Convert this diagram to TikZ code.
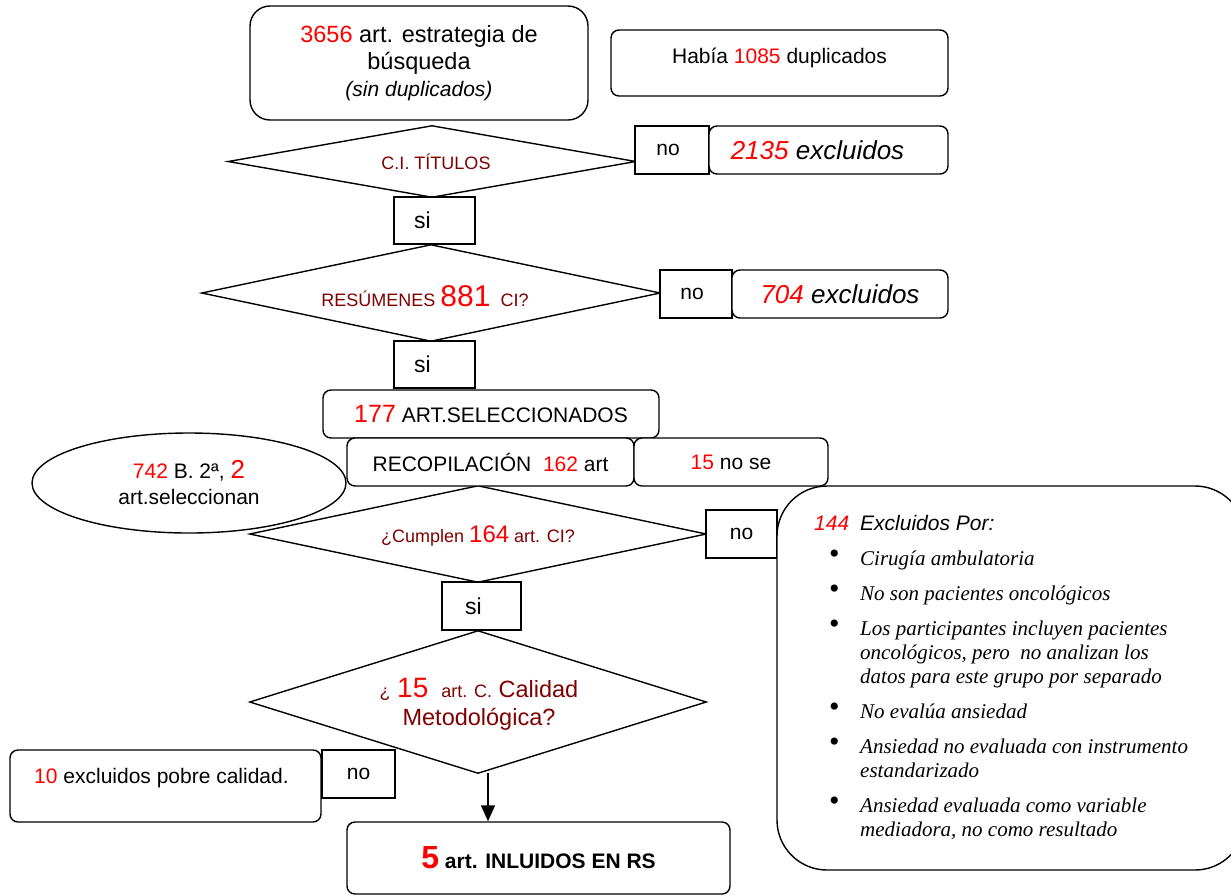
\documentclass[tikz,border=0pt]{standalone}
\usepackage{fontspec}
\setmainfont{Liberation Sans}
\newfontfamily\tnr{Liberation Serif}
\usetikzlibrary{shapes.geometric,arrows.meta}
\definecolor{dred}{RGB}{128,0,0}
\definecolor{bred}{RGB}{255,0,0}
\newcommand\fsz[2]{\fontsize{#1}{#2}\selectfont}
\newcommand\rn[1]{\textcolor{bred}{#1}}
\newcommand\bul{\makebox[46pt][l]{\hspace{15pt}\raisebox{2pt}{\tnr\fsz{30}{24}•}}}
\begin{document}
\begin{tikzpicture}[x=1pt,y=-1pt,
  every node/.style={inner sep=0pt},
  rbox/.style={draw, line width=1.4pt, rounded corners=8pt, fill=white, align=center, font=\fsz{21}{26}},
  sqbox/.style={draw, line width=1.4pt, fill=white, align=center, font=\fsz{21}{26}},
  dtext/.style={align=center, text=dred},
  dia/.style={draw, line width=1.4pt, fill=white},
  arr/.style={line width=1.4pt, -{Triangle[length=16pt,width=14pt]}}
]
\useasboundingbox (0,0) rectangle (1231,895);

% top boxes
\node[rbox, rounded corners=20pt, minimum width=338, minimum height=114, font=\fsz{23.5}{27}] (b1) at (419,63)
  {\rn{3656} art. estrategia de\\ búsqueda\\ {\fsz{21}{27}\itshape (sin duplicados)}};
\node[rbox, minimum width=337, minimum height=66] (hab) at (779.5,63)
  {\raisebox{14pt}{Había \rn{1085} duplicados}};

% diamond 1
\node[dtext, minimum width=407, minimum height=71] (d1) at (432,161.5) {};
\draw[dia] (d1.west) -- (d1.north) -- (d1.east) -- (d1.south) -- cycle;
\node[dtext, font=\fsz{18}{20}] (t1) at (436,162) {C.I. TÍTULOS};
\node[sqbox, minimum width=74, minimum height=48] (no1) at (672,150) {no\hspace{8pt}};
\node[rbox, minimum width=239, minimum height=48, font=\fsz{26}{28}\itshape] (ex1) at (828.5,150)
  {\rn{2135} excluidos\hspace{22pt}};
\node[sqbox, minimum width=81, minimum height=47, font=\fsz{23}{26}] (si1) at (434.5,220.5) {si\hspace{24pt}};

% diamond 2
\node[dtext, minimum width=458, minimum height=96] (d2) at (431,293) {};
\draw[dia] (d2.west) -- (d2.north) -- (d2.east) -- (d2.south) -- cycle;
\node[dtext, font=\fsz{18}{20}] (t2) at (425,296) {RESÚMENES {\fsz{30}{30}\rn{881}} \ CI?};
\node[sqbox, minimum width=72, minimum height=48] (no2) at (696,294) {no\hspace{8pt}};
\node[rbox, minimum width=216, minimum height=48, font=\fsz{26}{28}\itshape] (ex2) at (840,294)
  {\rn{704} excluidos};
\node[sqbox, minimum width=81, minimum height=47, font=\fsz{23}{26}] (si2) at (434.5,364.5) {si\hspace{24pt}};

% selected / recompilation
\node[rbox, minimum width=336, minimum height=48] (sel) at (491,414)
  {{\fsz{25}{26}\rn{177}} ART.SELECCIONADOS};
\node[dtext, minimum width=456, minimum height=96] (d3) at (478,534) {};
\draw[dia] (d3.west) -- (d3.north) -- (d3.east) -- (d3.south) -- cycle;
\node[rbox, minimum width=287, minimum height=48] (rec) at (490.5,462)
  {RECOPILACIÓN\ \ \rn{162} art};
\node[rbox, minimum width=194, minimum height=48] (nose) at (731,462) {\rn{15} no se};
\node[draw, line width=1.4pt, fill=white, ellipse, minimum width=314, minimum height=100, align=center, font=\fsz{21}{26}] (ell) at (189,483)
  {\rn{742} B. 2ª, {\fsz{26}{26}\rn{2}}\\ art.seleccionan};

% diamond 3 text
\node[dtext, font=\fsz{18}{20}] (t3) at (478,536) {¿Cumplen {\fsz{24}{24}\rn{164}} art. CI?};
\node[sqbox, minimum width=71, minimum height=48] (no3) at (741.5,534) {no};
\node[sqbox, minimum width=79, minimum height=48, font=\fsz{23}{26}] (si3) at (481.5,606) {si\hspace{16pt}};

% big exclusion box
\node[draw, line width=1.4pt, rounded corners=50pt, fill=white, minimum width=468, minimum height=384] (big) at (1011,678) {};
\node[anchor=base west] (lst) at (814,530) {%
  \fsz{21}{24}%
  \begin{tabular}[t]{@{}l@{}l@{}}
  \makebox[46pt][l]{\itshape\rn{144}} & {\itshape Excluidos Por:}\\[11pt]
  \bul & {\tnr\itshape Cirugía ambulatoria}\\[11pt]
  \bul & {\tnr\itshape No son pacientes oncológicos}\\[11pt]
  \bul & {\tnr\itshape Los participantes incluyen pacientes}\\
   & {\tnr\itshape oncológicos, pero\ \ no analizan los}\\
   & {\tnr\itshape datos para este grupo por separado}\\[11pt]
  \bul & {\tnr\itshape No evalúa ansiedad}\\[11pt]
  \bul & {\tnr\itshape Ansiedad no evaluada con instrumento}\\
   & {\tnr\itshape estandarizado}\\[11pt]
  \bul & {\tnr\itshape Ansiedad evaluada como variable}\\
   & {\tnr\itshape mediadora, no como resultado}
  \end{tabular}};

% diamond 4
\node[dtext, minimum width=456, minimum height=142] (d4) at (478,702) {};
\draw[dia] (d4.west) -- (d4.north) -- (d4.east) -- (d4.south) -- cycle;
\node[dtext, font=\fsz{23.5}{28}] (t4) at (479,704)
  {{\fsz{18}{20}¿} {\fsz{28}{28}\rn{15}}\ \ {\fsz{18}{20}art. C.} Calidad\\ Metodológica?};
\node[rbox, minimum width=311, minimum height=72] (ex4) at (165.5,786)
  {\raisebox{20pt}{\rn{10} excluidos pobre calidad.}\hspace{8pt}};
\node[sqbox, minimum width=73, minimum height=48] (no4) at (358.5,774) {no};
\node[rbox, minimum width=383, minimum height=72, font=\fsz{21}{26}\bfseries] (fin) at (538.5,858)
  {{\fsz{32}{32}\rn{5}} art. INLUIDOS EN RS};

\draw[arr] ([xshift=10pt]d4.south) -- ([xshift=10pt]d4.south |- fin.north);
\end{tikzpicture}
\end{document}
